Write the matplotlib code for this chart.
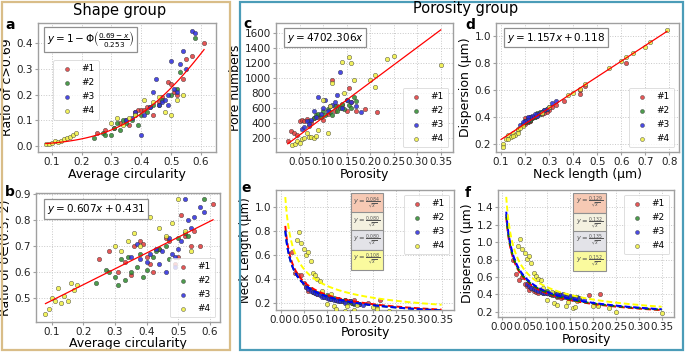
import math
import numpy as np
import matplotlib
matplotlib.use("Agg")
import matplotlib.pyplot as plt
from matplotlib.patches import Rectangle

# ---------------- data ----------------
group_labels = ["#1", "#2", "#3", "#4"]

# Shape group: average circularity, ratio of c>0.69, ratio of delta in (0.5,2)
circ_1 = [0.25, 0.28, 0.31, 0.33, 0.35, 0.36, 0.38, 0.39, 0.40, 0.41, 0.42, 0.44, 0.46, 0.47, 0.49, 0.50, 0.51, 0.52, 0.54, 0.55, 0.57, 0.61]
rc_1 = [0.05, 0.06, 0.07, 0.09, 0.10, 0.08, 0.13, 0.14, 0.14, 0.14, 0.15, 0.12, 0.17, 0.19, 0.25, 0.24, 0.21, 0.20, 0.26, 0.34, 0.35, 0.40]
rd_1 = [0.65, 0.68, 0.60, 0.64, 0.59, 0.70, 0.72, 0.71, 0.66, 0.63, 0.60, 0.69, 0.73, 0.72, 0.63, 0.66, 0.82, 0.74, 0.70, 0.76, 0.70, 0.86]

circ_2 = [0.24, 0.27, 0.28, 0.30, 0.31, 0.32, 0.33, 0.34, 0.35, 0.37, 0.38, 0.39, 0.40, 0.42, 0.43, 0.44, 0.46, 0.47, 0.50, 0.52, 0.53, 0.58]
rc_2 = [0.03, 0.05, 0.04, 0.04, 0.07, 0.09, 0.06, 0.10, 0.09, 0.10, 0.12, 0.08, 0.12, 0.13, 0.15, 0.16, 0.16, 0.18, 0.20, 0.22, 0.29, 0.42]
rd_2 = [0.56, 0.61, 0.60, 0.58, 0.55, 0.65, 0.57, 0.66, 0.60, 0.62, 0.67, 0.58, 0.61, 0.66, 0.68, 0.69, 0.70, 0.65, 0.73, 0.75, 0.74, 0.88]

circ_3 = [0.35, 0.37, 0.38, 0.40, 0.41, 0.43, 0.44, 0.45, 0.46, 0.47, 0.48, 0.49, 0.49, 0.50, 0.51, 0.52, 0.53, 0.54, 0.55, 0.57, 0.58]
rc_3 = [0.10, 0.11, 0.13, 0.04, 0.12, 0.15, 0.21, 0.26, 0.16, 0.17, 0.18, 0.16, 0.20, 0.33, 0.22, 0.21, 0.32, 0.37, 0.30, 0.45, 0.44]
rd_3 = [0.66, 0.71, 0.65, 0.64, 0.67, 0.69, 0.63, 0.68, 0.60, 0.73, 0.67, 0.66, 0.62, 0.69, 0.72, 0.88, 0.80, 0.77, 0.81, 0.85, 0.83]

circ_4 = [0.08, 0.09, 0.10, 0.11, 0.12, 0.13, 0.14, 0.15, 0.16, 0.17, 0.18, 0.30, 0.32, 0.34, 0.36, 0.38, 0.41, 0.44, 0.46, 0.48, 0.50, 0.52, 0.54]
rc_4 = [0.005, 0.005, 0.01, 0.02, 0.015, 0.02, 0.025, 0.03, 0.035, 0.04, 0.05, 0.09, 0.11, 0.08, 0.11, 0.12, 0.18, 0.17, 0.19, 0.13, 0.12, 0.18, 0.20]
rd_4 = [0.44, 0.46, 0.50, 0.49, 0.54, 0.48, 0.51, 0.49, 0.56, 0.53, 0.55, 0.70, 0.68, 0.72, 0.75, 0.70, 0.81, 0.77, 0.74, 0.79, 0.88, 0.76, 0.68]

# Porosity group: porosity, pore numbers, neck length (um), dispersion (um)
por_1 = [0.025, 0.032, 0.038, 0.045, 0.05, 0.055, 0.06, 0.065, 0.07, 0.075, 0.08, 0.09, 0.10, 0.11, 0.12, 0.125, 0.13, 0.14, 0.15, 0.155, 0.16, 0.17, 0.19, 0.215]
pn_1 = [160, 290, 260, 230, 430, 440, 420, 450, 360, 410, 470, 480, 440, 520, 980, 560, 620, 640, 560, 860, 680, 560, 580, 540]
neck_1 = [0.62, 0.45, 0.43, 0.43, 0.36, 0.33, 0.30, 0.31, 0.29, 0.28, 0.27, 0.27, 0.25, 0.24, 0.22, 0.23, 0.21, 0.22, 0.21, 0.20, 0.22, 0.19, 0.20, 0.22]
disp_1 = [0.80, 0.63, 0.57, 0.60, 0.52, 0.49, 0.45, 0.47, 0.44, 0.43, 0.42, 0.43, 0.41, 0.40, 0.37, 0.39, 0.36, 0.38, 0.36, 0.35, 0.37, 0.34, 0.39, 0.40]

por_2 = [0.07, 0.08, 0.085, 0.09, 0.095, 0.10, 0.105, 0.11, 0.115, 0.12, 0.125, 0.13, 0.135, 0.14, 0.145, 0.15, 0.155, 0.16, 0.165, 0.17]
pn_2 = [430, 470, 500, 520, 480, 560, 510, 590, 540, 500, 620, 560, 600, 650, 580, 700, 640, 600, 750, 690]
neck_2 = [0.29, 0.28, 0.27, 0.26, 0.25, 0.26, 0.24, 0.23, 0.24, 0.22, 0.23, 0.22, 0.21, 0.22, 0.20, 0.21, 0.20, 0.19, 0.20, 0.19]
disp_2 = [0.46, 0.45, 0.44, 0.42, 0.43, 0.44, 0.40, 0.39, 0.41, 0.38, 0.40, 0.38, 0.37, 0.39, 0.36, 0.37, 0.36, 0.35, 0.37, 0.35]

por_3 = [0.055, 0.06, 0.065, 0.07, 0.075, 0.08, 0.085, 0.09, 0.095, 0.10, 0.105, 0.11, 0.115, 0.12, 0.125, 0.13, 0.135, 0.14, 0.15, 0.16, 0.17, 0.18]
pn_3 = [320, 340, 420, 380, 440, 560, 480, 750, 520, 600, 700, 560, 620, 640, 680, 770, 1080, 600, 700, 680, 620, 540]
neck_3 = [0.33, 0.31, 0.30, 0.29, 0.28, 0.27, 0.26, 0.25, 0.25, 0.24, 0.23, 0.23, 0.22, 0.22, 0.21, 0.21, 0.21, 0.20, 0.21, 0.20, 0.19, 0.18]
disp_3 = [0.52, 0.50, 0.47, 0.46, 0.45, 0.44, 0.43, 0.42, 0.41, 0.42, 0.40, 0.41, 0.39, 0.40, 0.38, 0.39, 0.40, 0.37, 0.38, 0.37, 0.36, 0.34]

por_4 = [0.035, 0.04, 0.045, 0.05, 0.055, 0.06, 0.065, 0.07, 0.075, 0.08, 0.085, 0.09, 0.10, 0.11, 0.115, 0.12, 0.14, 0.145, 0.155, 0.16, 0.165, 0.20, 0.21, 0.21, 0.235, 0.25, 0.35]
pn_4 = [100, 120, 150, 130, 180, 200, 260, 210, 210, 190, 220, 300, 700, 260, 620, 940, 1220, 800, 1280, 1200, 970, 980, 880, 1040, 1250, 1300, 1170]
neck_4 = [0.72, 0.79, 0.70, 0.65, 0.60, 0.62, 0.55, 0.45, 0.43, 0.40, 0.38, 0.30, 0.19, 0.27, 0.17, 0.15, 0.13, 0.17, 0.12, 0.14, 0.18, 0.16, 0.17, 0.15, 0.13, 0.11, 0.11]
disp_4 = [0.95, 1.04, 0.92, 0.87, 0.81, 0.84, 0.76, 0.64, 0.61, 0.58, 0.56, 0.47, 0.33, 0.43, 0.30, 0.28, 0.27, 0.31, 0.24, 0.25, 0.32, 0.27, 0.28, 0.26, 0.24, 0.20, 0.18]

# fitted coefficients
neck_k = [0.084, 0.080, 0.080, 0.108]
disp_k = [0.129, 0.132, 0.135, 0.152]
neck_k_txt = ["0.084", "0.080", "0.080", "0.108"]
disp_k_txt = ["0.129", "0.132", "0.135", "0.152"]

circ = [circ_1, circ_2, circ_3, circ_4]
rc = [rc_1, rc_2, rc_3, rc_4]
rd = [rd_1, rd_2, rd_3, rd_4]
por = [por_1, por_2, por_3, por_4]
pn = [pn_1, pn_2, pn_3, pn_4]
neck = [neck_1, neck_2, neck_3, neck_4]
disp = [disp_1, disp_2, disp_3, disp_4]

# ---------------- style ----------------
colors = ["#e23a3a", "#2e8b2e", "#2b2be0", "#f0f040"]
line_colors = ["red", "green", "blue", "yellow"]
box_colors = ["#f6c9b4", "#f4f1e0", "#e3e3e8", "#fafa9e"]
W, H = 685, 353
fig = plt.figure(figsize=(W / 100, H / 100), dpi=100)

def add_ax(x0, y0, x1, y1):
    return fig.add_axes([x0 / W, 1 - y1 / H, (x1 - x0) / W, (y1 - y0) / H])

def style(ax):
    ax.grid(True, linestyle=":", color="#c8c8c8", linewidth=0.7)
    ax.set_axisbelow(True)
    for s in ax.spines.values():
        s.set_color("#a0a0a0")
        s.set_linewidth(1.0)
    ax.tick_params(labelsize=7.5, length=2, color="#a0a0a0", pad=1.5, labelcolor="#222222")

def scatter_groups(ax, xs, ys):
    for i in range(4):
        ax.scatter(xs[i], ys[i], s=10, c=colors[i], edgecolors="#333333",
                   linewidths=0.35, alpha=0.85, label=group_labels[i], zorder=3)

def eq_box(ax, txt, x=0.05, y=0.95, fs=7.5):
    ax.text(x, y, txt, transform=ax.transAxes, fontsize=fs, va="top", ha="left",
            bbox=dict(boxstyle="square,pad=0.25", fc="white", ec="#909090", lw=0.9), zorder=5)

def legend(ax, **kw):
    lg = ax.legend(fontsize=6.5, markerscale=0.9, handletextpad=0.6, borderpad=0.5,
                   labelspacing=0.55, frameon=True, **kw)
    lg.get_frame().set_edgecolor("#d0d0d0")
    lg.get_frame().set_linewidth(0.6)
    return lg

def frac_boxes(ax, ktxt, x, ys):
    for i, yy in enumerate(ys):
        ax.text(x, yy, r"$y=\frac{%s}{\sqrt{x}}$" % ktxt[i], transform=ax.transAxes,
                fontsize=4.8, ha="center", va="center", color="#555555",
                bbox=dict(boxstyle="square,pad=0.35", fc=box_colors[i], ec="#909090", lw=0.8), zorder=5)

# ---- frames and titles ----
fig.add_artist(Rectangle((2 / W, 1 - 350 / H), 228 / W, 348 / H, transform=fig.transFigure,
                         fill=False, ec="#d9bd88", lw=1.6))
fig.add_artist(Rectangle((240 / W, 1 - 350 / H), 443 / W, 348 / H, transform=fig.transFigure,
                         fill=False, ec="#4b9cb8", lw=1.6))
fig.text(120 / W, 1 - 10 / H, "Shape group", fontsize=10.5, ha="center", va="center")
fig.text(466 / W, 1 - 9 / H, "Porosity group", fontsize=10.5, ha="center", va="center")
for lab, (px, py) in zip("abcdef", [(10, 25), (10, 192), (247, 24), (470, 25), (246, 188), (468, 193)]):
    fig.text(px / W, 1 - py / H, lab, fontsize=10, fontweight="bold", ha="center", va="center")

# ---- a ----
ax = add_ax(38, 23, 216, 152)
style(ax)
scatter_groups(ax, circ, rc)
xf = np.linspace(0.08, 0.61, 100)
yf = np.array([1 - 0.5 * (1 + math.erf(((0.69 - v) / 0.253) / math.sqrt(2))) for v in xf])
ax.plot(xf, yf, color="red", lw=0.9, zorder=4)
ax.set_xlim(0.054, 0.65)
ax.set_ylim(-0.025, 0.48)
ax.set_xticks([0.1, 0.2, 0.3, 0.4, 0.5, 0.6])
ax.set_yticks([0.0, 0.1, 0.2, 0.3, 0.4])
ax.set_xlabel("Average circularity", fontsize=9, labelpad=1)
ax.set_ylabel("Ratio of c>0.69", fontsize=9, labelpad=2)
eq_box(ax, r"$y=1-\Phi\left(\frac{0.69-x}{0.253}\right)$", x=0.05, y=0.95)
legend(ax, loc="upper left", bbox_to_anchor=(0.06, 0.75))

# ---- b ----
ax = add_ax(36, 193, 220, 322)
style(ax)
scatter_groups(ax, circ, rd)
xf = np.linspace(0.08, 0.61, 10)
ax.plot(xf, 0.607 * xf + 0.431, color="red", lw=0.9, zorder=4)
ax.set_xlim(0.05, 0.632)
ax.set_ylim(0.409, 0.904)
ax.set_xticks([0.1, 0.2, 0.3, 0.4, 0.5, 0.6])
ax.set_yticks([0.5, 0.6, 0.7, 0.8, 0.9])
ax.set_xlabel("Average circularity", fontsize=9, labelpad=0)
ax.set_ylabel("Ratio of δ∈(0.5, 2)", fontsize=9, labelpad=2)
eq_box(ax, r"$y=0.607x+0.431$", x=0.06, y=0.93)
legend(ax, loc="lower right")

# ---- c ----
ax = add_ax(276, 23, 453, 152)
style(ax)
scatter_groups(ax, por, pn)
xf = np.linspace(0.025, 0.35, 10)
ax.plot(xf, 4702.306 * xf, color="red", lw=0.9, zorder=4)
ax.set_xlim(0.0, 0.376)
ax.set_ylim(8, 1738)
ax.set_xticks([0.05, 0.10, 0.15, 0.20, 0.25, 0.30, 0.35])
ax.set_xticklabels(["0.05", "0.10", "0.15", "0.20", "0.25", "0.30", "0.35"])
ax.set_yticks([200, 400, 600, 800, 1000, 1200, 1400, 1600])
ax.set_xlabel("Porosity", fontsize=9, labelpad=1)
ax.set_ylabel("Pore numbers", fontsize=9, labelpad=2)
eq_box(ax, r"$y=4702.306x$", x=0.06, y=0.94)
legend(ax, loc="lower right")

# ---- d ----
ax = add_ax(496, 23, 679, 152)
style(ax)
scatter_groups(ax, neck, disp)
xf = np.linspace(0.1, 0.79, 10)
ax.plot(xf, 1.157 * xf + 0.118, color="red", lw=0.9, zorder=4)
ax.set_xlim(0.079, 0.84)
ax.set_ylim(0.141, 1.094)
ax.set_xticks([0.1, 0.2, 0.3, 0.4, 0.5, 0.6, 0.7, 0.8])
ax.set_yticks([0.2, 0.4, 0.6, 0.8, 1.0])
ax.set_xlabel("Neck length (μm)", fontsize=9, labelpad=1)
ax.set_ylabel("Dispersion (μm)", fontsize=9, labelpad=2)
eq_box(ax, r"$y=1.157x+0.118$", x=0.06, y=0.94)
legend(ax, loc="lower right")

# ---- e ----
ax = add_ax(276, 190, 454, 310)
style(ax)
scatter_groups(ax, por, neck)
xf = np.linspace(0.01, 0.35, 200)
for i in range(4):
    ax.plot(xf, neck_k[i] / np.sqrt(xf), color=line_colors[i], lw=1.4, ls=(0, (3, 1.5)), zorder=4)
ax.set_xlim(-0.0102, 0.377)
ax.set_ylim(0.139, 1.139)
ax.set_xticks([0.0, 0.05, 0.10, 0.15, 0.20, 0.25, 0.30, 0.35])
ax.set_xticklabels(["0.00", "0.05", "0.10", "0.15", "0.20", "0.25", "0.30", "0.35"])
ax.set_yticks([0.2, 0.4, 0.6, 0.8, 1.0])
ax.set_xlabel("Porosity", fontsize=9, labelpad=1)
ax.set_ylabel("Neck Length (μm)", fontsize=8.5, labelpad=2)
frac_boxes(ax, neck_k_txt, 0.51, [0.89, 0.73, 0.58, 0.42])
legend(ax, loc="upper right")

# ---- f ----
ax = add_ax(498, 190, 674, 317)
style(ax)
scatter_groups(ax, por, disp)
for i in range(4):
    ax.plot(xf, disp_k[i] / np.sqrt(xf), color=line_colors[i], lw=1.4, ls=(0, (3, 1.5)), zorder=4)
ax.set_xlim(-0.008, 0.377)
ax.set_ylim(0.139, 1.599)
ax.set_xticks([0.0, 0.05, 0.10, 0.15, 0.20, 0.25, 0.30, 0.35])
ax.set_xticklabels(["0.00", "0.05", "0.10", "0.15", "0.20", "0.25", "0.30", "0.35"])
ax.set_yticks([0.2, 0.4, 0.6, 0.8, 1.0, 1.2, 1.4])
ax.set_xlabel("Porosity", fontsize=9, labelpad=1)
ax.set_ylabel("Dispersion (μm)", fontsize=9, labelpad=2)
frac_boxes(ax, disp_k_txt, 0.52, [0.90, 0.74, 0.60, 0.44])
legend(ax, loc="upper right")

fig.savefig("out.png", dpi=100)
